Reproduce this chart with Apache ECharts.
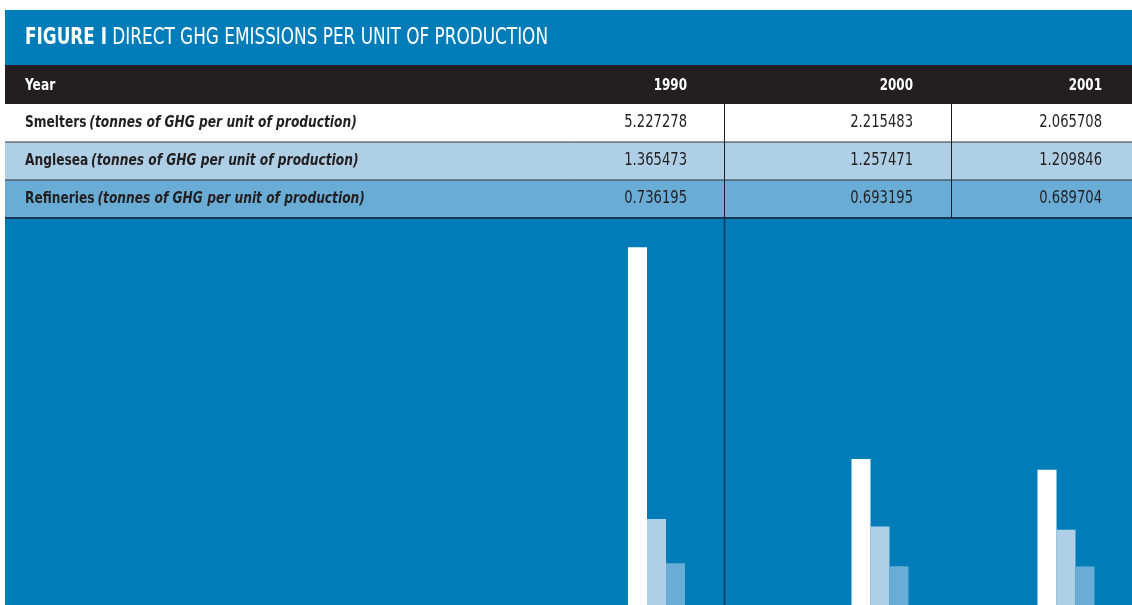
<!DOCTYPE html>
<html>
<head>
<meta charset="utf-8">
<script src="https://cdn.jsdelivr.net/npm/echarts@6/dist/echarts.min.js"></script>
<style>
html,body{margin:0;padding:0;background:#fff;}
#chart{width:1132px;height:605px;}
</style>
</head>
<body>
<div id="chart"></div>
<script>
// ---- data ----
const years = ['1990', '2000', '2001'];
const rowNames = ['Smelters', 'Anglesea', 'Refineries'];
const unitNote = '(tonnes of GHG per unit of production)';
const smelters = [5.227278, 2.215483, 2.065708];
const anglesea = [1.365473, 1.257471, 1.209846];
const refineries = [0.736195, 0.693195, 0.689704];
const titleBold = 'FIGURE I';
const titleRest = 'DIRECT GHG EMISSIONS PER UNIT OF PRODUCTION';
const headerLabel = 'Year';

// ---- styles ----
const BLUE = '#007DB9';
const DARK = '#231F20';
const rowColors = ['#FFFFFF', '#AECFE6', '#69ADD6'];
const seriesColors = ['#FFFFFF', '#AECFE6', '#69ADD6'];
const FONT = '"Liberation Sans Narrow", "DejaVu Sans Condensed", sans-serif';

const allRows = [smelters, anglesea, refineries];

const chart = echarts.init(document.getElementById('chart'), null, {renderer: 'canvas'});

// table geometry
const panelX = 5, panelY = 10, W = 1132;
const headerTop = 65, headerH = 39, rowH = 38;
const colRight = [687, 913, 1102];
const colSep = [724, 951];

const graphic = [];
// panel background
graphic.push({type: 'rect', z: 0, shape: {x: panelX, y: panelY, width: W - panelX, height: 605 - panelY}, style: {fill: BLUE}});
// title
graphic.push({type: 'text', z: 1, x: 25, y: 38, scaleX: 0.815, style: {
  text: '{b|' + titleBold + '} {r|' + titleRest + '}',
  verticalAlign: 'middle', fill: '#fff', fontFamily: FONT, fontSize: 23,
  rich: {
    b: {fontFamily: FONT, fontSize: 23, fontWeight: 'bold', fill: '#fff'},
    r: {fontFamily: FONT, fontSize: 23, fill: '#fff'}
  }
}});
// header row
graphic.push({type: 'rect', z: 1, shape: {x: panelX, y: headerTop, width: W - panelX, height: headerH}, style: {fill: DARK}});
graphic.push({type: 'text', z: 2, x: 25, y: headerTop + headerH / 2 + 1, scaleX: 0.85, style: {
  text: headerLabel, fontFamily: FONT, fontSize: 16, fontWeight: 'bold', fill: '#fff', verticalAlign: 'middle'}});
years.forEach((y, i) => {
  graphic.push({type: 'text', z: 2, x: colRight[i], y: headerTop + headerH / 2 + 1, scaleX: 0.83, style: {
    text: y, fontFamily: FONT, fontSize: 16, fontWeight: 'bold', fill: '#fff', align: 'right', verticalAlign: 'middle'}});
});
// data rows
rowNames.forEach((name, r) => {
  const top = headerTop + headerH + r * rowH;
  graphic.push({type: 'rect', z: 1, shape: {x: panelX, y: top, width: W - panelX, height: rowH}, style: {fill: rowColors[r]}});
  graphic.push({type: 'text', z: 2, x: 25, y: top + rowH / 2, scaleX: 0.85, style: {
    text: '{n|' + name + '} {u|' + unitNote + '}', verticalAlign: 'middle',
    rich: {
      n: {fontFamily: FONT, fontSize: 16, fontWeight: 'bold', fill: DARK},
      u: {fontFamily: FONT, fontSize: 16, fontWeight: 'bold', fontStyle: 'italic', fill: DARK}
    }
  }});
  allRows[r].forEach((v, i) => {
    graphic.push({type: 'text', z: 2, x: colRight[i], y: top + rowH / 2, scaleX: 0.86, style: {
      text: v.toFixed(6), fontFamily: FONT, fontSize: 17, fill: DARK, align: 'right', verticalAlign: 'middle'}});
  });
  // horizontal separator under row
  graphic.push({type: 'line', z: 3, shape: {x1: panelX, y1: top + rowH, x2: W, y2: top + rowH},
    style: {stroke: r === 2 ? '#1d3553' : '#333', lineWidth: r === 2 ? 2 : 1}});
});
// vertical separators in table
const tableTop = headerTop + headerH, tableBottom = headerTop + headerH + 3 * rowH;
colSep.forEach(x => {
  graphic.push({type: 'line', z: 3, shape: {x1: x + 0.5, y1: tableTop, x2: x + 0.5, y2: tableBottom}, style: {stroke: DARK, lineWidth: 1}});
});
// vertical line in chart area
graphic.push({type: 'line', z: 3, shape: {x1: colSep[0] + 0.5, y1: tableBottom, x2: colSep[0] + 0.5, y2: 605}, style: {stroke: '#1d3553', lineWidth: 1.5}});

// three grids (one per year column); baseline sits just below the visible canvas
const gridLefts = [600, 830, 1016];
const gridWidths = [113, 100, 100];
const grids = [], xAxes = [], yAxes = [], series = [];
years.forEach((y, i) => {
  grids.push({left: gridLefts[i], width: gridWidths[i], top: 228, height: 387,
    containLabel: false, outerBoundsMode: 'none'});
  xAxes.push({type: 'category', gridIndex: i, data: [y], show: false});
  yAxes.push({type: 'value', gridIndex: i, min: 0, max: 5.5, show: false, splitLine: {show: false}});
  allRows.forEach((vals, s) => {
    series.push({
      type: 'bar', name: rowNames[s], xAxisIndex: i, yAxisIndex: i,
      data: [vals[i]], barWidth: 19, barGap: '0%', z: 10,
      itemStyle: {color: seriesColors[s]}, silent: true, animation: false
    });
  });
});

chart.setOption({
  backgroundColor: '#FFFFFF',
  animation: false,
  graphic: {elements: graphic},
  grid: grids,
  xAxis: xAxes,
  yAxis: yAxes,
  series: series
});
</script>
</body>
</html>
